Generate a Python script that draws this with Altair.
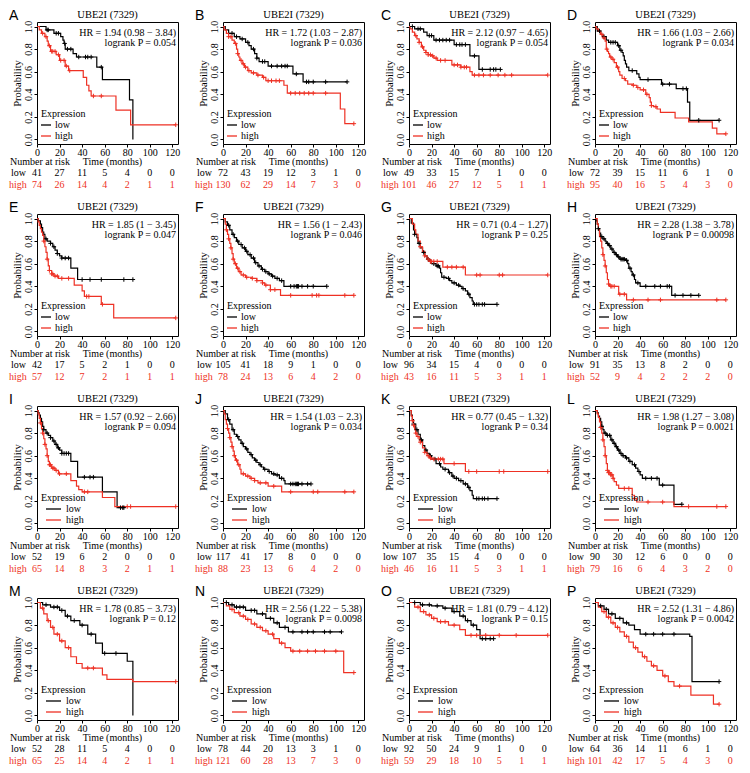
import altair as alt
import pandas as pd

RED = "#ee3124"
SERIF = "Liberation Serif"
SANS = "Liberation Sans"
W, H = 141, 122
XMAX = 125

LETTERS = list("ABCDEFGHIJKLMNOP")
GENE = "UBE2I (7329)"
HR_TEXT = ["HR = 1.94 (0.98 \u2212 3.84)", "HR = 1.72 (1.03 \u2212 2.87)", "HR = 2.12 (0.97 \u2212 4.65)",
           "HR = 1.66 (1.03 \u2212 2.66)", "HR = 1.85 (1 \u2212 3.45)", "HR = 1.56 (1 \u2212 2.43)",
           "HR = 0.71 (0.4 \u2212 1.27)", "HR = 2.28 (1.38 \u2212 3.78)", "HR = 1.57 (0.92 \u2212 2.66)",
           "HR = 1.54 (1.03 \u2212 2.3)", "HR = 0.77 (0.45 \u2212 1.32)", "HR = 1.98 (1.27 \u2212 3.08)",
           "HR = 1.78 (0.85 \u2212 3.73)", "HR = 2.56 (1.22 \u2212 5.38)", "HR = 1.81 (0.79 \u2212 4.12)",
           "HR = 2.52 (1.31 \u2212 4.86)"]
P_TEXT = ["logrank P = 0.054", "logrank P = 0.036", "logrank P = 0.054", "logrank P = 0.034",
          "logrank P = 0.047", "logrank P = 0.046", "logrank P = 0.25", "logrank P = 0.00098",
          "logrank P = 0.094", "logrank P = 0.034", "logrank P = 0.34", "logrank P = 0.0021",
          "logrank P = 0.12", "logrank P = 0.0098", "logrank P = 0.15", "logrank P = 0.0042"]
RISK_TIMES = [0, 20, 40, 60, 80, 100, 120]
RISK_LOW = [[41, 27, 11, 5, 4, 0, 0], [72, 43, 19, 12, 3, 1, 0], [49, 33, 15, 7, 1, 0, 0], [72, 39, 15, 11, 6, 1, 0],
            [42, 17, 5, 2, 1, 0, 0], [105, 41, 18, 9, 1, 0, 0], [96, 34, 15, 4, 0, 0, 0], [91, 35, 13, 8, 2, 0, 0],
            [52, 19, 6, 2, 0, 0, 0], [117, 41, 17, 8, 0, 0, 0], [107, 35, 15, 4, 0, 0, 0], [90, 30, 12, 6, 0, 0, 0],
            [52, 28, 11, 5, 4, 0, 0], [78, 44, 20, 13, 3, 1, 0], [92, 50, 24, 9, 1, 0, 0], [64, 36, 14, 11, 6, 1, 0]]
RISK_HIGH = [[74, 26, 14, 4, 2, 1, 1], [130, 62, 29, 14, 7, 3, 0], [101, 46, 27, 12, 5, 1, 1], [95, 40, 16, 5, 4, 3, 0],
             [57, 12, 7, 2, 1, 1, 1], [78, 24, 13, 6, 4, 2, 0], [43, 16, 11, 5, 3, 1, 1], [52, 9, 4, 2, 2, 2, 0],
             [65, 14, 8, 3, 2, 1, 1], [88, 23, 13, 6, 4, 2, 0], [46, 16, 11, 5, 3, 1, 1], [79, 16, 6, 4, 3, 2, 0],
             [65, 25, 14, 4, 2, 1, 1], [121, 60, 28, 13, 7, 3, 0], [59, 29, 18, 10, 5, 1, 1], [101, 42, 17, 5, 4, 3, 0]]
X_TICKS = [0, 20, 40, 60, 80, 100, 120]
Y_TICKS = [0.0, 0.2, 0.4, 0.6, 0.8, 1.0]

# ---- Kaplan-Meier curves: step times (t), survival after step (s), censor times (c)
A_low_t = [0, 8, 15, 21, 23, 24, 25, 32, 35, 53, 58, 82, 85]
A_low_s = [1.0, 0.97, 0.94, 0.91, 0.88, 0.85, 0.80, 0.76, 0.73, 0.64, 0.53, 0.35, 0.0]
A_low_c = [9, 10, 17, 19, 24.5, 27, 30, 37, 43, 45, 48, 57]
A_high_t = [0, 2, 4, 7, 9, 10, 12, 17, 20, 25, 28, 41, 44, 46, 48, 70, 83, 123]
A_high_s = [1.0, 0.97, 0.94, 0.91, 0.87, 0.83, 0.78, 0.75, 0.70, 0.65, 0.61, 0.55, 0.48, 0.43, 0.385, 0.26, 0.13, 0.13]
A_high_c = [5, 8, 11, 13, 14, 16, 19, 21, 24, 26, 29, 50, 57, 123]

B_low_t = [0, 2, 5, 10, 15, 20, 23, 25, 28, 30, 32, 40, 62, 71, 110]
B_low_s = [1, .97, .94, .91, .89, .86, .83, .80, .76, .72, .69, .65, .58, .51, .51]
B_low_c = [8, 12, 17, 22, 27, 30, 35, 37, 43, 48, 52, 55, 57, 65, 74, 76, 80, 91, 110]
B_high_t = [0, 1, 3, 5, 8, 10, 12, 13, 14, 15, 17, 19, 22, 25, 30, 35, 38, 54, 57, 104, 108, 116]
B_high_s = [1, .97, .94, .91, .88, .85, .80, .76, .73, .70, .67, .64, .61, .59, .57, .55, .52, .48, .41, .27, .14, .14]
B_high_c = [5, 7, 11, 13, 16, 18, 20, 23, 27, 31, 36, 40, 43, 47, 50, 60, 64, 68, 72, 76, 80, 91, 116]

C_low_t = [0, 5, 13, 16, 22, 40, 54, 62, 81]
C_low_s = [1, .98, .95, .92, .88, .84, .74, .62, .62]
C_low_c = [3, 8, 10, 18, 20, 24, 27, 30, 33, 36, 42, 45, 47, 50, 58, 65, 72, 75, 77, 81]
C_high_t = [0, 1, 3, 5, 7, 9, 11, 13, 15, 17, 20, 22, 25, 38, 46, 54, 56, 123]
C_high_s = [1, .98, .95, .92, .89, .86, .82, .79, .77, .75, .74, .72, .70, .66, .64, .60, .57, .57]
C_high_c = [6, 9, 12, 15, 17, 19, 21, 24, 28, 32, 40, 43, 46, 49, 51, 58, 62, 66, 72, 79, 85, 91, 123]

D_low_t = [0, 2, 5, 7, 10, 12, 20, 22, 24, 25, 26, 27, 28, 30, 37, 39, 40, 59, 72, 82, 84, 110]
D_low_s = [1, .96, .93, .91, .88, .86, .83, .79, .77, .74, .70, .67, .64, .61, .58, .55, .53, .49, .45, .33, .17, .17]
D_low_c = [4, 8, 14, 16, 18, 21, 23, 33, 47, 60, 66, 78, 81, 92, 110]
D_high_t = [0, 1, 3, 5, 7, 9, 10, 11, 12, 13, 15, 17, 19, 21, 22, 24, 27, 29, 33, 37, 40, 45, 48, 49, 50, 52, 55, 58, 71, 83, 104, 108, 116]
D_high_s = [1, .98, .96, .93, .90, .87, .80, .78, .76, .73, .71, .68, .64, .60, .57, .54, .52, .49, .48, .46, .44, .40, .37, .33, .30, .29, .27, .24, .19, .155, .10, .05, .05]
D_high_c = [6, 8, 10.5, 14, 16, 20, 26, 34, 38, 43, 46, 50, 54, 116]

E_low_t = [0, 1, 3, 4, 5, 6, 7, 9, 12, 14, 16, 18, 20, 22, 30, 36, 85]
E_low_s = [1, .98, .95, .92, .88, .86, .82, .80, .78, .75, .72, .69, .67, .65, .56, .46, .46]
E_low_c = [8, 12, 15, 18, 22, 25, 28, 40, 47, 57, 77, 85]
E_high_t = [0, 1, 2, 3, 4, 5, 6, 7, 8, 9, 10, 11, 13, 15, 19, 33, 40, 42, 57, 68, 123]
E_high_s = [1, .97, .94, .91, .88, .85, .80, .75, .70, .64, .58, .54, .51, .49, .47, .41, .36, .31, .24, .12, .12]
E_high_c = [6, 9, 11, 13, 14, 16, 18, 22, 28, 44, 46, 58, 123]

F_low_t = [0, 2, 4, 6, 8, 10, 12, 14, 17, 20, 22, 25, 28, 31, 34, 37, 40, 43, 46, 50, 54, 92]
F_low_s = [1, .97, .94, .90, .86, .83, .80, .77, .74, .71, .68, .65, .61, .58, .55, .53, .51, .49, .47, .45, .40, .40]
F_low_c = [5, 9, 13, 16, 19, 21, 24, 27, 29, 32, 35, 38, 41, 44, 48, 52, 60, 63, 65, 66, 67, 70, 75, 80, 92]
F_high_t = [0, 2, 3, 4, 5, 6, 7, 8, 9, 10, 12, 14, 16, 20, 25, 30, 35, 37, 42, 51, 116]
F_high_s = [1, .95, .90, .86, .82, .78, .74, .69, .64, .60, .56, .53, .50, .48, .47, .45, .43, .41, .37, .32, .32]
F_high_c = [3, 5, 7, 9, 11, 13, 15, 18, 21, 26, 30, 35, 38, 42, 46, 60, 79, 83, 85, 108, 116]

G_low_t = [0, 2, 4, 5, 7, 8, 10, 12, 14, 16, 18, 20, 24, 27, 28, 29, 33, 36, 38, 42, 45, 47, 50, 52, 54, 56, 57, 78]
G_low_s = [1, .96, .90, .86, .83, .78, .74, .70, .67, .64, .62, .60, .58, .56, .52, .48, .47, .45, .43, .41, .40, .38, .36, .33, .30, .27, .24, .24]
G_low_c = [5, 9, 13, 17, 19, 22, 25, 26, 31, 35, 40, 44, 48, 53, 58, 60, 62, 65, 67, 78]
G_high_t = [0, 3, 5, 6, 8, 10, 12, 14, 16, 18, 30, 50, 123]
G_high_s = [1, .95, .90, .86, .80, .75, .71, .67, .64, .62, .57, .50, .50]
G_high_c = [10, 14, 17, 19, 20, 22, 25, 34, 38, 42, 48, 60, 63, 80, 83, 123]

H_low_t = [0, 1, 2, 3, 4, 5, 7, 9, 10, 12, 14, 16, 18, 20, 22, 27, 29, 30, 32, 33, 35, 36, 40, 68, 92]
H_low_s = [1, .98, .95, .91, .87, .84, .82, .80, .78, .76, .73, .70, .68, .66, .64, .63, .60, .56, .53, .50, .46, .43, .40, .32, .32]
H_low_c = [3, 6, 8, 11, 13, 15, 17, 19, 21, 23, 24, 25, 26, 28, 31, 34, 38, 45, 53, 58, 64, 66, 71, 78, 85, 92]
H_high_t = [0, 2, 3, 4, 5, 6, 7, 8, 9, 10, 11, 12, 13, 21, 28, 116]
H_high_s = [1, .95, .90, .84, .80, .74, .68, .63, .58, .52, .46, .42, .40, .33, .28, .28]
H_high_c = [7, 9, 12, 14, 15, 17, 22, 26, 34, 47, 58, 108, 116]

I_low_t = [0, 1, 2, 3, 4, 5, 6, 8, 10, 12, 14, 16, 18, 20, 22, 30, 36, 58, 71, 77]
I_low_s = [1, .98, .96, .93, .90, .86, .83, .80, .78, .76, .73, .70, .67, .65, .62, .55, .41, .28, .14, .14]
I_low_c = [6, 9, 12, 15, 17, 19, 22, 24, 26, 28, 42, 47, 50, 74, 76, 77]
I_high_t = [0, 1, 2, 3, 4, 5, 6, 7, 8, 9, 10, 11, 13, 16, 19, 30, 35, 37, 40, 58, 69, 123]
I_high_s = [1, .97, .93, .89, .84, .80, .75, .70, .66, .60, .55, .52, .49, .47, .44, .38, .33, .30, .28, .23, .15, .15]
I_high_c = [3, 5, 7, 9, 11, 12, 14, 15, 17, 20, 26, 42, 45, 80, 83, 123]

J_low_t = [0, 2, 4, 6, 8, 10, 12, 14, 16, 18, 20, 22, 24, 26, 28, 30, 32, 34, 36, 40, 43, 46, 50, 54, 55, 78]
J_low_s = [1, .97, .92, .88, .83, .79, .77, .74, .71, .68, .66, .63, .61, .58, .56, .54, .52, .50, .48, .46, .44, .43, .40, .38, .35, .35]
J_low_c = [5, 9, 13, 17, 21, 25, 29, 33, 37, 41, 45, 48, 52, 60, 62, 64, 65, 66, 67, 70, 75, 78]
J_high_t = [0, 1, 2, 3, 4, 5, 6, 7, 8, 9, 10, 11, 13, 15, 16, 20, 24, 28, 31, 40, 52, 116]
J_high_s = [1, .97, .92, .88, .84, .80, .76, .72, .68, .64, .60, .56, .52, .48, .44, .42, .40, .38, .36, .33, .28, .28]
J_high_c = [4, 6, 8, 10, 12, 14, 18, 22, 25, 28, 33, 38, 45, 60, 80, 84, 108, 116]

K_low_t = [0, 2, 3, 4, 6, 8, 10, 12, 14, 16, 18, 20, 24, 28, 30, 35, 38, 40, 44, 48, 52, 54, 56, 57, 78]
K_low_s = [1, .96, .92, .88, .83, .79, .74, .69, .65, .62, .60, .57, .53, .50, .48, .45, .42, .40, .38, .35, .32, .29, .25, .22, .22]
K_low_c = [4, 7, 11, 15, 19, 23, 27, 32, 36, 39, 42, 46, 50, 53, 60, 62, 65, 67, 70, 78]
K_high_t = [0, 2, 3, 4, 5, 6, 7, 9, 10, 12, 14, 16, 18, 20, 31, 50, 123]
K_high_s = [1, .95, .91, .87, .83, .80, .77, .74, .72, .67, .63, .60, .58, .57, .53, .46, .46]
K_high_c = [3, 4, 6, 8, 10, 14, 17, 19, 22, 26, 28, 30, 40, 53, 60, 80, 84, 123]

L_low_t = [0, 2, 3, 4, 5, 6, 7, 8, 10, 14, 16, 18, 20, 22, 24, 27, 30, 33, 36, 38, 40, 42, 57, 70, 77]
L_low_s = [1, .98, .95, .93, .90, .86, .83, .80, .78, .74, .71, .68, .65, .62, .60, .58, .55, .52, .49, .46, .43, .40, .34, .17, .17]
L_low_c = [6, 9, 11, 13, 15, 17, 19, 21, 23, 25, 28, 31, 35, 39, 45, 50, 55, 60, 77]
L_high_t = [0, 2, 3, 4, 5, 6, 7, 8, 9, 10, 11, 12, 14, 16, 17, 19, 21, 33, 35, 37, 70, 116]
L_high_s = [1, .97, .94, .90, .85, .80, .74, .68, .60, .53, .47, .45, .43, .40, .37, .34, .31, .25, .22, .19, .15, .15]
L_high_c = [5, 7, 9, 11, 12, 13, 14, 15, 16, 26, 30, 35, 47, 60, 83, 108, 116]

M_low_t = [0, 5, 12, 20, 25, 30, 38, 45, 52, 58, 80, 85]
M_low_s = [1, .98, .96, .93, .88, .84, .80, .72, .64, .55, .48, 0]
M_low_c = [8, 15, 18, 22, 27, 33, 40, 48, 60, 70]
M_high_t = [0, 3, 6, 9, 12, 15, 20, 25, 30, 35, 40, 58, 62, 85, 123]
M_high_s = [1, .95, .90, .84, .78, .72, .66, .60, .52, .46, .42, .36, .32, .30, .30]
M_high_c = [5, 10, 14, 18, 22, 28, 45, 50, 123]

N_low_t = [0, 5, 10, 20, 30, 38, 45, 50, 58, 105]
N_low_s = [1, .98, .96, .93, .90, .86, .82, .78, .74, .74]
N_low_c = [3, 8, 12, 15, 18, 25, 28, 35, 42, 48, 55, 62, 70, 75, 80, 90, 95, 105]
N_high_t = [0, 3, 6, 10, 15, 20, 25, 30, 35, 40, 45, 50, 55, 60, 107, 116]
N_high_s = [1, .97, .94, .91, .88, .85, .81, .78, .75, .72, .68, .64, .60, .57, .38, .38]
N_high_c = [8, 14, 18, 22, 28, 33, 38, 44, 52, 62, 68, 75, 82, 90, 100, 116]

O_low_t = [0, 10, 20, 30, 38, 45, 50, 55, 60, 63, 75]
O_low_s = [1, .98, .97, .95, .92, .88, .84, .80, .76, .68, .68]
O_low_c = [5, 12, 18, 25, 32, 40, 48, 52, 57, 65, 68, 72, 75]
O_high_t = [0, 5, 10, 15, 20, 25, 35, 45, 50, 123]
O_high_s = [1, .96, .92, .89, .86, .83, .80, .76, .71, .71]
O_high_c = [8, 13, 18, 22, 28, 32, 40, 55, 60, 68, 80, 95, 123]

P_low_t = [0, 3, 8, 12, 18, 25, 30, 35, 40, 84, 86, 110]
P_low_s = [1, .97, .94, .90, .86, .82, .80, .76, .72, .70, .30, .30]
P_low_c = [5, 10, 15, 22, 28, 45, 52, 60, 70, 110]
P_high_t = [0, 3, 6, 10, 14, 18, 22, 26, 30, 34, 38, 42, 46, 50, 55, 60, 65, 70, 85, 105, 110]
P_high_s = [1, .96, .92, .87, .82, .78, .74, .70, .65, .60, .56, .52, .48, .44, .40, .35, .30, .26, .18, .10, .10]
P_high_c = [8, 12, 16, 20, 28, 36, 44, 52, 62, 75, 110]

CURVES = [
    (A_low_t, A_low_s, A_low_c, A_high_t, A_high_s, A_high_c),
    (B_low_t, B_low_s, B_low_c, B_high_t, B_high_s, B_high_c),
    (C_low_t, C_low_s, C_low_c, C_high_t, C_high_s, C_high_c),
    (D_low_t, D_low_s, D_low_c, D_high_t, D_high_s, D_high_c),
    (E_low_t, E_low_s, E_low_c, E_high_t, E_high_s, E_high_c),
    (F_low_t, F_low_s, F_low_c, F_high_t, F_high_s, F_high_c),
    (G_low_t, G_low_s, G_low_c, G_high_t, G_high_s, G_high_c),
    (H_low_t, H_low_s, H_low_c, H_high_t, H_high_s, H_high_c),
    (I_low_t, I_low_s, I_low_c, I_high_t, I_high_s, I_high_c),
    (J_low_t, J_low_s, J_low_c, J_high_t, J_high_s, J_high_c),
    (K_low_t, K_low_s, K_low_c, K_high_t, K_high_s, K_high_c),
    (L_low_t, L_low_s, L_low_c, L_high_t, L_high_s, L_high_c),
    (M_low_t, M_low_s, M_low_c, M_high_t, M_high_s, M_high_c),
    (N_low_t, N_low_s, N_low_c, N_high_t, N_high_s, N_high_c),
    (O_low_t, O_low_s, O_low_c, O_high_t, O_high_s, O_high_c),
    (P_low_t, P_low_s, P_low_c, P_high_t, P_high_s, P_high_c),
]

PLUS = "M-1,0H1M0,-1V1"
ONE = pd.DataFrame({"k": [0]})
FS = 10


def step_at(ts, ss, t):
    v = ss[0]
    for ti, si in zip(ts, ss):
        if ti <= t:
            v = si
        else:
            break
    return v


def label(text, x, y, size=FS, color="black", align="left", font=SERIF):
    return alt.Chart(ONE).mark_text(
        text=text, font=font, fontSize=size, color=color, align=align, baseline="middle"
    ).encode(x=alt.value(x), y=alt.value(y))


def panel(i):
    lt, ls, lc, ht, hs, hc = CURVES[i]
    rows = [{"g": "low", "t": t, "s": s} for t, s in zip(lt, ls)]
    rows += [{"g": "high", "t": t, "s": s} for t, s in zip(ht, hs)]
    cdf = pd.DataFrame(rows)
    crow = [{"g": "low", "t": t, "s": step_at(lt, ls, t)} for t in lc]
    crow += [{"g": "high", "t": t, "s": step_at(ht, hs, t)} for t in hc]
    cen = pd.DataFrame(crow)

    xs = alt.Scale(domain=[0, XMAX], nice=False, zero=False)
    ys = alt.Scale(domain=[-0.04, 1.04], nice=False, zero=False)
    cs = alt.Scale(domain=["low", "high"], range=["black", RED])
    xaxis = alt.Axis(values=X_TICKS, title=None, labelFlush=False, labelOverlap=False,
                     tickSize=3, labelPadding=0, labelFontSize=FS, labelFont=SERIF)
    yaxis = alt.Axis(values=Y_TICKS, format=".1f", title="Probability", labelAngle=270,
                     labelAlign="center", labelBaseline="bottom", labelFlush=False,
                     labelOverlap=False, tickSize=3, labelPadding=1, titlePadding=1,
                     labelFontSize=FS, labelFont=SERIF, titleFontSize=10.5, titleFont=SERIF)
    X = alt.X("t:Q", scale=xs, axis=xaxis)
    Y = alt.Y("s:Q", scale=ys, axis=yaxis)
    color = alt.Color("g:N", scale=cs, legend=None)

    curves = alt.Chart(cdf).mark_line(interpolate="step-after", strokeWidth=1.2).encode(
        x=X, y=Y, color=color)
    marks = alt.Chart(cen).mark_point(shape=PLUS, filled=False, size=20, strokeWidth=1, opacity=1).encode(
        x=X, y=Y, color=color)

    rl = pd.DataFrame({"t": RISK_TIMES, "n": [str(v) for v in RISK_LOW[i]]})
    rh = pd.DataFrame({"t": RISK_TIMES, "n": [str(v) for v in RISK_HIGH[i]]})
    low_row = alt.Chart(rl).mark_text(font=SERIF, fontSize=FS, color="black", baseline="middle").encode(
        x=X, y=alt.value(H + 29), text="n:N")
    high_row = alt.Chart(rh).mark_text(font=SERIF, fontSize=FS, color=RED, baseline="middle").encode(
        x=X, y=alt.value(H + 40.5), text="n:N")

    long_leg = LETTERS[i] in "IJKLMNOP"
    lx0, lx1, tx = (9, 24, 29) if long_leg else (4, 14, 18)
    leg_low = alt.Chart(ONE).mark_rule(color="black", strokeWidth=1.3).encode(
        x=alt.value(lx0), x2=alt.value(lx1), y=alt.value(H - 19))
    leg_high = alt.Chart(ONE).mark_rule(color=RED, strokeWidth=1.3).encode(
        x=alt.value(lx0), x2=alt.value(lx1), y=alt.value(H - 8))

    texts = [
        label(LETTERS[i], -28, -6, size=14, font=SANS),
        label(GENE, W / 2, -7, size=10.5, align="center"),
        label(HR_TEXT[i], W - 2, 10.5, align="right"),
        label(P_TEXT[i], W - 2, 21, align="right"),
        label("Expression", 4, H - 30),
        label("low", tx, H - 19),
        label("high", tx, H - 8),
        label("Number at risk", -27, H + 18),
        label("Time (months)", W / 2 + 5, H + 18, align="center"),
        label("low", -26, H + 29),
        label("high", -28, H + 40.5, color=RED),
    ]
    return alt.layer(curves, marks, low_row, high_row, leg_low, leg_high, *texts).properties(
        width=W, height=H)


panels = [panel(i) for i in range(16)]
chart = alt.concat(*panels, columns=4, spacing={"row": 10, "column": 13}).properties(
    padding={"left": 0, "top": 0, "right": 0, "bottom": 0}
).configure_view(stroke="black", strokeWidth=1).configure_axis(
    labelColor="black", tickColor="black", titleColor="black", titleFontWeight="normal",
    titleFont=SERIF, labelFont=SERIF, labelFontSize=FS, titleFontSize=10.5, grid=False,
    domain=False, labelOverlap=False, labelFlush=False
).configure_axisLeft(labelAngle=270, labelAlign="center", labelBaseline="bottom")

chart.save("out.html", embed_options={"renderer": "svg", "actions": False})
